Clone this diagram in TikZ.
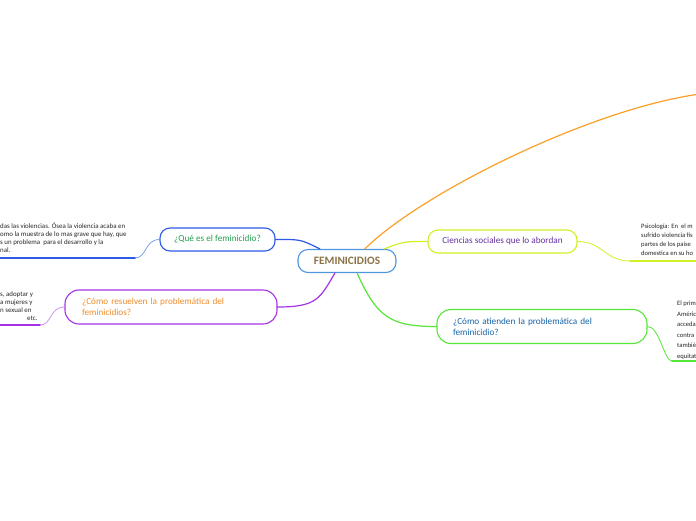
\documentclass[tikz,border=0pt]{standalone}
\usepackage{fontspec}
\setmainfont{Carlito}
\usetikzlibrary{calc}
\definecolor{bordecentro}{RGB}{80,150,220}
\definecolor{textocentro}{RGB}{140,115,70}
\definecolor{azulrama}{RGB}{45,90,230}
\definecolor{azulclaro}{RGB}{130,160,240}
\definecolor{verdetexto}{RGB}{35,160,80}
\definecolor{moradorama}{RGB}{165,50,230}
\definecolor{moradoclaro}{RGB}{205,150,240}
\definecolor{naranjatexto}{RGB}{240,140,40}
\definecolor{naranjarama}{RGB}{250,160,40}
\definecolor{amarillorama}{RGB}{210,240,40}
\definecolor{moradotexto}{RGB}{100,50,160}
\definecolor{verderama}{RGB}{85,230,55}
\definecolor{azultexto}{RGB}{20,100,170}

\begin{document}
\begin{tikzpicture}[x=1pt, y=-1pt, line cap=round,
    caja/.style={draw, fill=white, rounded corners=10pt, line width=1.1pt, inner ysep=0pt,
        minimum height=23pt, font=\fontsize{9.2}{11}\selectfont},
    cajados/.style={caja, rounded corners=14pt, minimum height=34pt, inner xsep=16pt,
        text width=178pt, align=left},
    hoja/.style={inner sep=0pt, align=left, text=black!85, font=\fontsize{6.9}{8}\selectfont},
    rama/.style={line width=1.2pt},
    subrama/.style={line width=0.8pt},
    raya/.style={line width=1.6pt}]
    \useasboundingbox (0,0) rectangle (696,520);
    \clip (0,0) rectangle (696,520);
    \fill[white] (0,0) rectangle (696,520);
    % tema central y ramas
    \node[caja, draw=bordecentro, text=textocentro, minimum width=98pt,
        font=\fontsize{11.3}{13}\selectfont\bfseries] (centro) at (347,261) {FEMINICIDIOS};
    \node[caja, draw=azulrama, text=verdetexto, minimum width=115pt] (que) at (217.5,239.5) {¿Qué es el feminicidio?};
    \node[cajados, draw=moradorama, text=naranjatexto, inner xsep=17pt] (resuelven) at (171,307)
        {¿Cómo resuelven la problemática del\\feminicidios?};
    \node[caja, draw=amarillorama, text=moradotexto, minimum width=149pt] (ciencias) at (502.5,241.5) {Ciencias sociales que lo abordan};
    \node[cajados, draw=verderama, text=azultexto] (atienden) at (542,326.5)
        {¿Cómo atienden la problemática del\\feminicidio?};
    \coordinate (naranjafin) at (700,94);
    % conectores del centro
    \draw[rama, azulrama] (centro.156) .. controls +(-20,-10) and +(25,0) .. (que.east);
    \draw[rama, moradorama] (centro.225) .. controls +(-15,25) and +(40,0) .. (resuelven.east);
    \draw[rama, naranjarama] (centro.34) .. controls +(55,-55) and +(-110,15) .. (naranjafin);
    \draw[rama, amarillorama] (centro.18) .. controls +(20,-8) and +(-20,0) .. (ciencias.west);
    \draw[rama, verderama] (centro.-50) .. controls +(20,45) and +(-45,0) .. (atienden.west);
    % hojas (texto cortado por el borde)
    \coordinate (queA) at (135,258);   \coordinate (queB) at (-2,258);
    \coordinate (resA) at (40,325);    \coordinate (resB) at (-2,325);
    \coordinate (cieA) at (630,261);   \coordinate (cieB) at (700,261);
    \coordinate (atiA) at (672,361);   \coordinate (atiB) at (700,361);
    \draw[subrama, azulclaro] (que.west) .. controls +(-15,0) and +(12,0) .. (queA);
    \draw[raya, azulrama] (queA) -- (queB);
    \draw[subrama, moradoclaro] (resuelven.west) .. controls +(-15,0) and +(12,0) .. (resA);
    \draw[raya, moradorama] (resA) -- (resB);
    \draw[subrama, amarillorama] (ciencias.east) .. controls +(25,0) and +(-25,0) .. (cieA);
    \draw[raya, amarillorama] (cieA) -- (cieB);
    \draw[subrama, verderama] (atienden.east) .. controls +(12,0) and +(-8,0) .. (atiA);
    \draw[raya, verderama] (atiA) -- (atiB);
    \node[hoja, anchor=north west] (textoque) at (0,222.8)
        {das las violencias. Ósea la violencia acaba en\\omo la muestra de lo mas grave que hay, que\\s un problema\ \ para el desarrollo y la\\nal.};
    \node[hoja, anchor=north west] (textores) at (0,291.5)
        {s, adoptar y\\a mujeres y\\n sexual en\\\hspace*{27pt}etc.};
    \node[hoja, anchor=north west, font=\fontsize{6.6}{9}\selectfont] (textocie) at (641,224)
        {Psicología: En\ \ el m\\sufrido violencia fís\\partes de los paíse\\domestica en su ho};
    \node[hoja, anchor=north west, font=\fontsize{6.6}{10.5}\selectfont] (textoati) at (677,301)
        {El prim\\Améric\\acceda\\contra\\tambié\\equitat};
\end{tikzpicture}
\end{document}
